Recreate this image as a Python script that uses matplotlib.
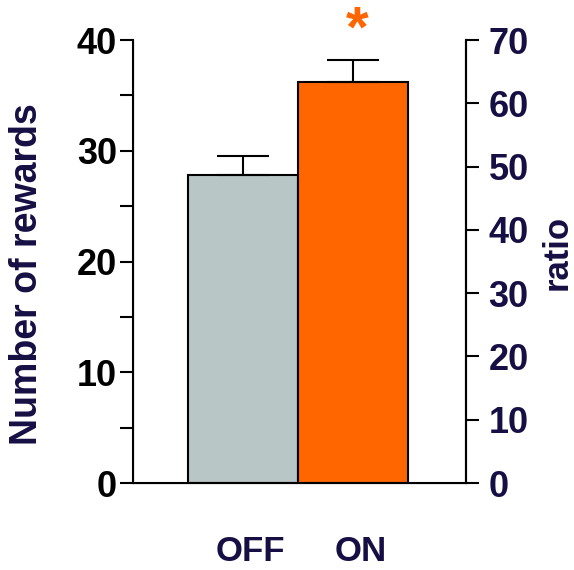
import matplotlib
matplotlib.use("Agg")
import matplotlib.pyplot as plt
import matplotlib.transforms as mtransforms

# data
conditions = ["OFF", "ON"]
rewards = [27.8, 36.2]
rewards_sem = [1.7, 2.0]
bar_colors = ["#b8c6c6", "#ff6600"]
left_ticks = [0, 10, 20, 30, 40]
right_ticks = [0, 10, 20, 30, 40, 50, 60, 70]

navy = "#160f44"
plt.rcParams["font.family"] = ["Liberation Sans", "DejaVu Sans"]
plt.rcParams["font.weight"] = "bold"

fig = plt.figure(figsize=(5.74, 5.70), dpi=100)
ax = fig.add_axes([0.2317, 0.1526, 0.5796, 0.7772])

x = [0, 1]
ax.bar(x, rewards, width=1.0, color=bar_colors, edgecolor="black", linewidth=1.5,
       yerr=[[0, 0], rewards_sem], capsize=19,
       error_kw=dict(elinewidth=1.5, capthick=1.5, ecolor="black"), zorder=2)

ax.set_xlim(-1.0, 2.02)
ax.set_ylim(0, 40)
ax.set_yticks(left_ticks)
ax.set_yticks([5, 15, 25, 35], minor=True)
ax.tick_params(axis="y", which="both", direction="out", length=9.5, width=1.5,
               labelsize=26, pad=2, colors="black")
ax.set_xticks([])
ax.spines["top"].set_visible(False)
for s in ["left", "bottom", "right"]:
    ax.spines[s].set_linewidth(1.5)

# axis titles
ax.text(-0.318, 0.472, "Number of rewards", transform=ax.transAxes, rotation=90,
        ha="center", va="center", fontsize=27, fontweight="bold", color=navy)
ax.text(1.276, 0.521, "ratio", transform=ax.transAxes, rotation=90,
        ha="center", va="center", fontsize=25, fontweight="bold", color=navy)

# category labels under the bars
trans = mtransforms.blended_transform_factory(ax.transData, ax.transAxes)
for xi, name in zip(x, conditions):
    ax.text(xi + 0.07, -0.155, name, transform=trans, ha="center", va="center",
            fontsize=25, fontweight="bold", color=navy)

# significance star
ax.text(1.04, 40.8, "*", ha="center", va="center", fontsize=42, fontweight="bold",
        color="#ff6600", clip_on=False)

ax2 = ax.twinx()
ax2.set_ylim(0, 70)
ax2.set_yticks(right_ticks)
ax2.tick_params(axis="y", direction="out", length=9.5, width=1.5, labelsize=26,
                pad=7, labelcolor=navy, color="black")
ax2.spines["top"].set_visible(False)
ax2.spines["right"].set_linewidth(1.5)

fig.savefig("out.png", dpi=100)
